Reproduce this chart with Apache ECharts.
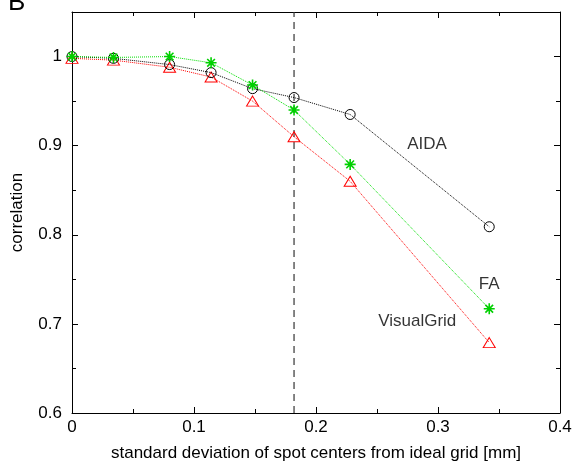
<!DOCTYPE html>
<html>
<head>
<meta charset="utf-8">
<script src="https://cdn.jsdelivr.net/npm/echarts@6/dist/echarts.min.js"></script>
<style>
  html, body { margin: 0; padding: 0; background: #fff; }
  #chart { width: 574px; height: 463px; }
</style>
</head>
<body>
<div id="chart"></div>
<script>
// x positions (std dev of spot centers, mm)
const sigma = [0, 0.034, 0.080, 0.114, 0.148, 0.182, 0.228, 0.342]
const aida = [1.000, 0.998, 0.991, 0.982, 0.964, 0.954, 0.935, 0.809]
const fa = [1.000, 0.999, 1.000, 0.993, 0.968, 0.940, 0.879, 0.717]
const visualGrid = [0.998, 0.996, 0.988, 0.977, 0.950, 0.910, 0.860, 0.679]
const cutoff = 0.182
const labels = [
  { name: 'AIDA', x: 0.291, y: 0.901 },
  { name: 'FA', x: 0.342, y: 0.744 },
  { name: 'VisualGrid', x: 0.283, y: 0.703 }
]

const font = 'Liberation Sans, Arial, sans-serif'
const star = 'path://M0,-5L0,5M-5,0L5,0M-3.5,-3.5L3.5,3.5M-3.5,3.5L3.5,-3.5'

function pairs(ys) {
  return sigma.map((x, i) => [x, ys[i]])
}

const tickStyle = { lineStyle: { color: '#000', width: 1 } }
const axisBase = {
  type: 'value',
  axisLine: { show: true, onZero: false, lineStyle: { color: '#000', width: 1 } },
  axisTick: { show: true, inside: true, length: 6, ...tickStyle },
  minorTick: { show: true, splitNumber: 2, length: 4, ...tickStyle },
  splitLine: { show: false }
}

const option = {
  animation: false,
  backgroundColor: '#fff',
  grid: { left: 72, right: 14, top: 12, bottom: 50, containLabel: false, outerBoundsMode: 'none' },
  xAxis: [
    {
      ...axisBase,
      min: 0, max: 0.4, interval: 0.1,
      axisLabel: { color: '#000', fontSize: 17, fontFamily: font, margin: 6,
        formatter: v => (v === 0 ? '0' : String(+v.toFixed(1))) },
      name: 'standard deviation of spot centers from ideal grid [mm]',
      nameLocation: 'middle',
      nameGap: 32,
      nameTextStyle: { color: '#000', fontSize: 17, fontFamily: font }
    },
    { ...axisBase, position: 'top', min: 0, max: 0.4, interval: 0.1, axisLabel: { show: false } }
  ],
  yAxis: [
    {
      ...axisBase,
      min: 0.6, max: 1.05, interval: 0.1,
      axisLabel: { color: '#000', fontSize: 17, fontFamily: font, margin: 10,
        formatter: v => (v > 1.04 ? '' : String(+v.toFixed(1))) },
      name: 'correlation',
      nameLocation: 'middle',
      nameGap: 46,
      nameTextStyle: { color: '#000', fontSize: 17, fontFamily: font }
    },
    { ...axisBase, position: 'right', min: 0.6, max: 1.05, interval: 0.1, axisLabel: { show: false } }
  ],
  series: [
    {
      type: 'line', name: 'AIDA', data: pairs(aida),
      symbol: 'circle', symbolSize: 10,
      lineStyle: { color: '#000', width: 1, type: 'dotted' },
      itemStyle: { color: 'transparent', borderColor: '#000', borderWidth: 1 },
      z: 3
    },
    {
      type: 'line', name: 'FA', data: pairs(fa),
      symbol: star, symbolSize: 11,
      lineStyle: { color: '#00e000', width: 1, type: 'dotted' },
      itemStyle: { color: 'transparent', borderColor: '#00d000', borderWidth: 1.6 },
      z: 4
    },
    {
      type: 'line', name: 'VisualGrid', data: pairs(visualGrid),
      symbol: 'triangle', symbolSize: [12, 10],
      lineStyle: { color: '#ff0000', width: 1, type: 'dotted' },
      itemStyle: { color: 'transparent', borderColor: '#ff0000', borderWidth: 1 },
      z: 2
    },
    {
      type: 'line', data: [[cutoff, 0.6], [cutoff, 1.05]],
      symbol: 'none', silent: true,
      lineStyle: { color: '#333', width: 1.2, type: [7, 5] },
      z: 1
    },
    {
      type: 'scatter', symbolSize: 0, silent: true,
      data: labels.map(l => ({ value: [l.x, l.y], name: l.name })),
      label: {
        show: true, position: 'inside', formatter: p => p.name,
        color: '#000', fontSize: 17, fontFamily: font
      }
    }
  ],
  graphic: [
    { type: 'text', left: 8, top: -10, style: { text: 'B', fontSize: 26, fontFamily: font, fill: '#000' } }
  ]
}

const myChart = echarts.init(document.getElementById('chart'))
myChart.setOption(option)
</script>
</body>
</html>
